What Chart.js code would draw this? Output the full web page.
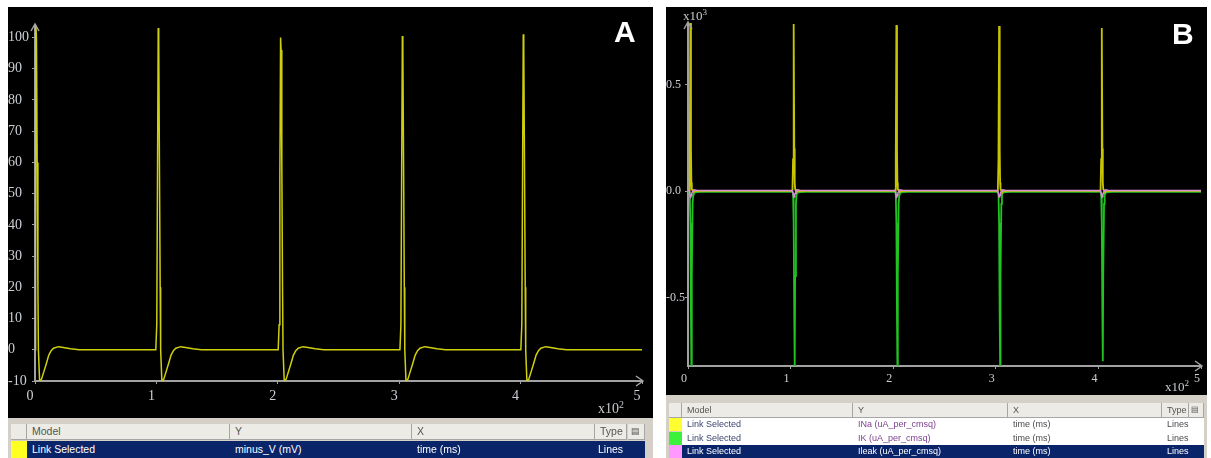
<!DOCTYPE html>
<html>
<head>
<meta charset="utf-8">
<script src="https://cdn.jsdelivr.net/npm/chart.js@4/dist/chart.umd.min.js"></script>
<style>
  body { margin: 0; width: 1211px; height: 458px; background: #fff; overflow: hidden; position: relative; }
  .panel { position: absolute; background: #000; overflow: hidden; }
  .panel canvas { position: absolute; left: 0; top: 0; }
  .letter { position: absolute; color: #fff; font: bold 30px "Liberation Sans", Arial, sans-serif; line-height: 30px; }
  .expo { position: absolute; color: #c8cbd0; font-family: "Liberation Serif", serif; white-space: nowrap; }
  .expo sup { font-size: 70%; vertical-align: 0; position: relative; top: -0.55em; }
  .grid { position: absolute; background: #d4d0c8; }
  .c { position: absolute; box-sizing: border-box; white-space: nowrap; overflow: hidden; font-family: "Liberation Sans", Arial, sans-serif; padding-left: 5px; }
  .hd { background: #ecebe6; border-right: 1px solid #a6a6a6; border-bottom: 1px solid #a6a6a6; color: #555; }
  .sel { background: #0a246a; color: #fff; }
  .wh { background: #fff; }
</style>
</head>
<body>

<div class="panel" style="left:8px; top:7px; width:645px; height:411px;">
  <canvas id="chartA" width="645" height="411"></canvas>
  <div class="letter" style="left:606px; top:10px;">A</div>
  <div class="expo" style="left:590px; top:394px; font-size:14px;">x10<sup>2</sup></div>
</div>

<div class="panel" style="left:666px; top:7px; width:541px; height:388px;">
  <canvas id="chartB" width="541" height="388"></canvas>
  <div class="letter" style="left:506px; top:12px;">B</div>
  <div class="expo" style="left:17px; top:1px; font-size:13px;">x10<sup>3</sup></div>
  <div class="expo" style="left:499px; top:372px; font-size:13px;">x10<sup>2</sup></div>
</div>

<!-- table under A -->
<div class="grid" style="left:8px; top:418px; width:645px; height:40px;"></div>
<div class="c hd" style="left:11px; top:424px; width:16px; height:16px;"></div>
<div class="c hd" style="left:27px; top:424px; width:203px; height:16px; font-size:10.5px; line-height:15px;">Model</div>
<div class="c hd" style="left:230px; top:424px; width:182px; height:16px; font-size:10.5px; line-height:15px;">Y</div>
<div class="c hd" style="left:412px; top:424px; width:183px; height:16px; font-size:10.5px; line-height:15px;">X</div>
<div class="c hd" style="left:595px; top:424px; width:32px; height:16px; font-size:10.5px; line-height:15px;">Type</div>
<div class="c hd" style="left:628px; top:424px; width:17px; height:16px; font-size:9px; line-height:15px; padding-left:3px;">&#9636;</div>
<div class="c" style="left:11px; top:441px; width:16px; height:17px; background:#ffff22;"></div>
<div class="c sel" style="left:27px; top:441px; width:618px; height:17px;"></div>
<div class="c sel" style="left:27px; top:441px; width:200px; height:17px; font-size:10.5px; line-height:17px; background:none;">Link Selected</div>
<div class="c sel" style="left:230px; top:441px; width:180px; height:17px; font-size:10.5px; line-height:17px; background:none;">minus_V (mV)</div>
<div class="c sel" style="left:412px; top:441px; width:180px; height:17px; font-size:10.5px; line-height:17px; background:none;">time (ms)</div>
<div class="c sel" style="left:593px; top:441px; width:40px; height:17px; font-size:10.5px; line-height:17px; background:none;">Lines</div>

<!-- table under B -->
<div class="grid" style="left:666px; top:395px; width:541px; height:63px;"></div>
<div class="c hd" style="left:669px; top:403px; width:13px; height:15px;"></div>
<div class="c hd" style="left:682px; top:403px; width:171px; height:15px; font-size:9px; line-height:14px;">Model</div>
<div class="c hd" style="left:853px; top:403px; width:155px; height:15px; font-size:9px; line-height:14px;">Y</div>
<div class="c hd" style="left:1008px; top:403px; width:154px; height:15px; font-size:9px; line-height:14px;">X</div>
<div class="c hd" style="left:1162px; top:403px; width:27px; height:15px; font-size:9px; line-height:14px;">Type</div>
<div class="c hd" style="left:1189px; top:403px; width:15px; height:15px; font-size:8px; line-height:14px; padding-left:2px;">&#9636;</div>

<div class="c" style="left:669px; top:418px; width:13px; height:13px; background:#ffff30;"></div>
<div class="c" style="left:669px; top:432px; width:13px; height:13px; background:#3cf03c;"></div>
<div class="c" style="left:669px; top:445px; width:13px; height:13px; background:#ff99ff;"></div>
<div class="c wh" style="left:682px; top:418px; width:522px; height:27px;"></div>
<div class="c sel" style="left:682px; top:445px; width:522px; height:13px;"></div>

<div class="c" style="left:682px; top:418px; width:170px; height:13px; font-size:9px; line-height:13px; color:#3c4670;">Link Selected</div>
<div class="c" style="left:853px; top:418px; width:154px; height:13px; font-size:9px; line-height:13px; color:#7a3f8e;">INa (uA_per_cmsq)</div>
<div class="c" style="left:1008px; top:418px; width:153px; height:13px; font-size:9px; line-height:13px; color:#4a4a4a;">time (ms)</div>
<div class="c" style="left:1162px; top:418px; width:40px; height:13px; font-size:9px; line-height:13px; color:#4a4a4a;">Lines</div>

<div class="c" style="left:682px; top:432px; width:170px; height:13px; font-size:9px; line-height:13px; color:#3c4670;">Link Selected</div>
<div class="c" style="left:853px; top:432px; width:154px; height:13px; font-size:9px; line-height:13px; color:#7a3f8e;">IK (uA_per_cmsq)</div>
<div class="c" style="left:1008px; top:432px; width:153px; height:13px; font-size:9px; line-height:13px; color:#4a4a4a;">time (ms)</div>
<div class="c" style="left:1162px; top:432px; width:40px; height:13px; font-size:9px; line-height:13px; color:#4a4a4a;">Lines</div>

<div class="c" style="left:682px; top:445px; width:170px; height:13px; font-size:9px; line-height:13px; color:#fff;">Link Selected</div>
<div class="c" style="left:853px; top:445px; width:154px; height:13px; font-size:9px; line-height:13px; color:#fff;">Ileak (uA_per_cmsq)</div>
<div class="c" style="left:1008px; top:445px; width:153px; height:13px; font-size:9px; line-height:13px; color:#fff;">time (ms)</div>
<div class="c" style="left:1162px; top:445px; width:40px; height:13px; font-size:9px; line-height:13px; color:#fff;">Lines</div>

<script>
// Panel A: membrane potential (minus_V, mV) against time (ms)
const timeA = [
  0, 0.2, 0.8, 1.2, 1.8, 2.4, 2.8, 3.8, 5.3, 7.3, 9.3, 11.3, 13.3, 15.3, 19.3, 23.3, 29.3, 36.3,
  99.5, 100.3, 100.9, 101.5, 101.9, 102.5, 103.1, 103.5, 104.5, 106, 108, 110, 112, 114, 116, 120, 124, 130, 137,
  200.3, 201.1, 201.7, 202.3, 202.7, 203.3, 203.9, 204.3, 205.3, 206.8, 208.8, 210.8, 212.8, 214.8, 216.8, 220.8, 224.8, 230.8, 237.8,
  300.6, 301.4, 302.0, 302.6, 303.0, 303.6, 304.2, 304.6, 305.6, 307.1, 309.1, 311.1, 313.1, 315.1, 317.1, 321.1, 325.1, 331.1, 338.1,
  400.2, 401.0, 401.6, 402.2, 402.6, 403.2, 403.8, 404.2, 405.2, 406.7, 408.7, 410.7, 412.7, 414.7, 416.7, 420.7, 424.7, 430.7, 437.7,
  500
];
const voltageA = [
  0, 55, 106, 100, 60, 20, 0, -10, -9.5, -7, -4.5, -1.8, -0.3, 0.5, 1.0, 0.7, 0.3, 0,
  0, 8, 55, 103, 99, 60, 20, 0, -10, -9.5, -7, -4.5, -1.8, -0.3, 0.5, 1.0, 0.7, 0.3, 0,
  0, 8, 55, 100, 96, 60, 20, 0, -10, -9.5, -7, -4.5, -1.8, -0.3, 0.5, 1.0, 0.7, 0.3, 0,
  0, 8, 55, 100.5, 96.5, 60, 20, 0, -10, -9.5, -7, -4.5, -1.8, -0.3, 0.5, 1.0, 0.7, 0.3, 0,
  0, 8, 55, 101, 97, 60, 20, 0, -10, -9.5, -7, -4.5, -1.8, -0.3, 0.5, 1.0, 0.7, 0.3, 0,
  0
];
const xTicksA = [0, 100, 200, 300, 400, 500];
const xTickLabelsA = ['0', '1', '2', '3', '4', '5'];
const yTicksA = [-10, 0, 10, 20, 30, 40, 50, 60, 70, 80, 90, 100];

// Panel B: ionic currents (uA_per_cmsq) against time (ms)
const timeB = [
  0,
  0.3, 1.1, 1.7, 2.3, 2.9, 3.3, 3.7, 4.5, 5.1, 5.8, 8.3, 14.3,
  101, 101.8, 102.4, 103, 103.6, 104, 104.4, 105.2, 105.8, 106.5, 109, 115,
  201.1, 201.9, 202.5, 203.1, 203.7, 204.1, 204.5, 205.3, 205.9, 206.6, 209.1, 215.1,
  301.2, 302, 302.6, 303.2, 303.8, 304.2, 304.6, 305.4, 306, 306.7, 309.2, 315.2,
  401.3, 402.1, 402.7, 403.3, 403.9, 404.3, 404.7, 405.5, 406.1, 406.8, 409.3, 415.3,
  500
];
const iNa = [
  1,
  1, 5, 150, 800, 200, 40, 10, 2, -3, -1, 0, 1,
  1, 5, 150, 785, 200, 40, 10, 2, -3, -1, 0, 1,
  1, 5, 150, 780, 200, 40, 10, 2, -3, -1, 0, 1,
  1, 5, 150, 776, 200, 40, 10, 2, -3, -1, 0, 1,
  1, 5, 150, 766, 200, 40, 10, 2, -3, -1, 0, 1,
  1
];
const iK = [
  -4,
  -4, -4, -10, -150, -600, -830, -400, -60, -15, -8, -5, -4,
  -4, -4, -10, -150, -600, -825, -400, -60, -15, -8, -5, -4,
  -4, -4, -10, -150, -600, -825, -400, -60, -15, -8, -5, -4,
  -4, -4, -10, -150, -600, -825, -400, -60, -15, -8, -5, -4,
  -4, -4, -10, -150, -600, -800, -400, -60, -15, -8, -5, -4,
  -4
];
const iLeak = [
  3,
  3, 1, -13, -28, -26, -18, -10, -2, 3, 6, 4, 3,
  3, 1, -13, -28, -26, -18, -10, -2, 3, 6, 4, 3,
  3, 1, -13, -28, -26, -18, -10, -2, 3, 6, 4, 3,
  3, 1, -13, -28, -26, -18, -10, -2, 3, 6, 4, 3,
  3, 1, -13, -28, -26, -18, -10, -2, 3, 6, 4, 3,
  3
];
const xTicksB = [0, 100, 200, 300, 400, 500];
const xTickLabelsB = ['0', '1', '2', '3', '4', '5'];
const yTicksB = [-500, 0, 500];
const yTickLabelsB = ['-0.5', '0.0', '0.5'];

const axisColor = '#a2a2a2';
const labelColor = '#ccd0d6';

// draws the little arrow heads at the ends of both axes
const axisArrows = {
  id: 'axisArrows',
  afterDraw(chart) {
    const { ctx, chartArea: { left, right, top, bottom } } = chart;
    ctx.save();
    ctx.strokeStyle = axisColor;
    ctx.lineWidth = 1.5;
    ctx.beginPath();
    ctx.moveTo(left - 4, top + 6); ctx.lineTo(left, top - 1); ctx.lineTo(left + 4, top + 6);
    ctx.moveTo(right - 6, bottom - 5); ctx.lineTo(right + 1, bottom); ctx.lineTo(right - 6, bottom + 5);
    ctx.stroke();
    ctx.restore();
  }
};

const toPoints = (xs, ys) => xs.map((x, i) => ({ x, y: ys[i] }));

const buildScales = ({ xTicks, xLabels, yTicks, yLabels, yMin, yMax, yWidth, xHeight, fontSize, xPad, xOffset }) => ({
  x: {
    type: 'linear', min: 0, max: 500,
    afterBuildTicks: (s) => { s.ticks = xTicks.map(v => ({ value: v })); },
    afterFit: (s) => { s.height = xHeight; },
    ticks: {
      autoSkip: false, maxRotation: 0, color: labelColor, padding: xPad, labelOffset: xOffset,
      font: { family: '"Liberation Serif", serif', size: fontSize },
      callback: (v, i) => xLabels[i]
    },
    grid: { drawOnChartArea: false, color: axisColor, tickLength: 3 },
    border: { color: axisColor, width: 2 }
  },
  y: {
    type: 'linear', min: yMin, max: yMax,
    afterBuildTicks: (s) => { s.ticks = yTicks.map(v => ({ value: v })); },
    afterFit: (s) => { s.width = yWidth; },
    ticks: {
      autoSkip: false, color: labelColor, padding: 2, crossAlign: 'far',
      font: { family: '"Liberation Serif", serif', size: fontSize },
      callback: (v, i) => yLabels[i]
    },
    grid: { drawOnChartArea: false, color: axisColor, tickLength: 3 },
    border: { color: axisColor, width: 2 }
  }
});

new Chart(document.getElementById('chartA'), {
  type: 'line',
  data: {
    datasets: [{
      data: toPoints(timeA, voltageA),
      borderColor: '#cfcf10', borderWidth: 1.5, pointRadius: 0, tension: 0
    }]
  },
  options: {
    responsive: false, animation: false,
    layout: { padding: { top: 18, right: 11, left: 0, bottom: 0 } },
    plugins: { legend: { display: false }, tooltip: { enabled: false } },
    scales: buildScales({
      xTicks: xTicksA, xLabels: xTickLabelsA,
      yTicks: yTicksA, yLabels: yTicksA.map(String),
      yMin: -10, yMax: 104, yWidth: 27, xHeight: 37, fontSize: 14, xPad: 4, xOffset: -5
    })
  },
  plugins: [axisArrows]
});

new Chart(document.getElementById('chartB'), {
  type: 'line',
  data: {
    datasets: [
      { data: toPoints(timeB, iLeak), borderColor: '#d88ed8', borderWidth: 1.5, pointRadius: 0, tension: 0 },
      { data: toPoints(timeB, iNa), borderColor: '#c8c400', borderWidth: 1.8, pointRadius: 0, tension: 0 },
      { data: toPoints(timeB, iK), borderColor: '#22c422', borderWidth: 1.8, pointRadius: 0, tension: 0 }
    ]
  },
  options: {
    responsive: false, animation: false,
    layout: { padding: { top: 16, right: 4, left: 0, bottom: 0 } },
    plugins: { legend: { display: false }, tooltip: { enabled: false } },
    scales: buildScales({
      xTicks: xTicksB, xLabels: xTickLabelsB,
      yTicks: yTicksB, yLabels: yTickLabelsB,
      yMin: -822, yMax: 790, yWidth: 22, xHeight: 29, fontSize: 12, xPad: 3, xOffset: -4
    })
  },
  plugins: [axisArrows]
});
</script>
</body>
</html>
